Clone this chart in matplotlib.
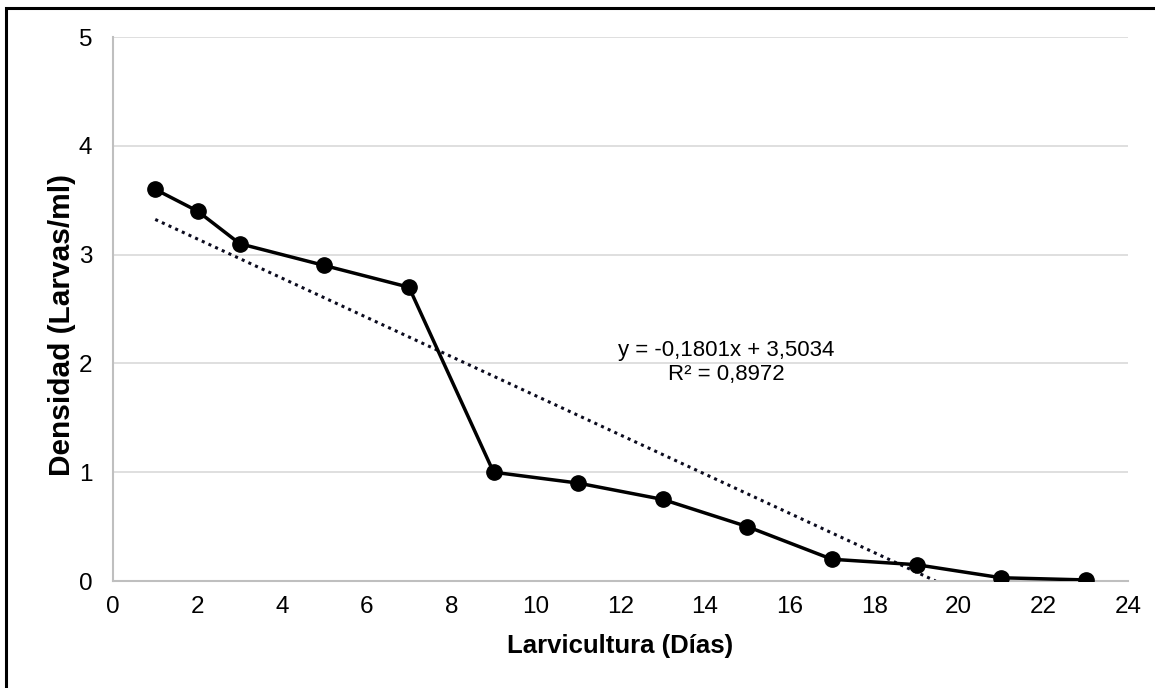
import matplotlib.pyplot as plt
from matplotlib.patches import Rectangle
import numpy as np

plt.rcParams['font.family'] = ['Liberation Sans', 'DejaVu Sans']

# data
dias = [1, 2, 3, 5, 7, 9, 11, 13, 15, 17, 19, 21, 23]
densidad = [3.6, 3.4, 3.1, 2.9, 2.7, 1.0, 0.9, 0.75, 0.5, 0.2, 0.15, 0.03, 0.01]
slope = -0.1801
intercept = 3.5034
eq_text = 'y = -0,1801x + 3,5034\nR² = 0,8972'

fig = plt.figure(figsize=(11.55, 6.88), dpi=100)
ax = fig.add_axes([0.0978, 0.1555, 0.8788, 0.7907])

# outer chart border (only left/top visible in the reference)
fig.patches.append(Rectangle((6/1155, -0.05), 1.2, 1 - 8/688 + 0.05,
                             transform=fig.transFigure, fill=False,
                             edgecolor='k', linewidth=2.2))

ax.plot(dias, densidad, '-o', color='k', linewidth=2.5, markersize=11, zorder=3)

# linear trendline, drawn until it reaches zero
x_end = -intercept / slope
xt = np.array([dias[0], x_end])
ax.plot(xt, slope * xt + intercept, linestyle=(0, (1, 1.4)), color='#0b0b1e',
        linewidth=2.2, zorder=2)

ax.text(14.5, 2.01, eq_text, ha='center', va='center', fontsize=16, linespacing=1.2)

ax.set_xlim(0, 24)
ax.set_ylim(0, 5)
ax.set_xticks(range(0, 25, 2))
ax.set_yticks(range(0, 6))
ax.grid(axis='y', color='#d9d9d9', linewidth=1.2)
ax.set_axisbelow(True)
for s in ['top', 'right']:
    ax.spines[s].set_visible(False)
for s in ['left', 'bottom']:
    ax.spines[s].set_color('#bfbfbf')
    ax.spines[s].set_linewidth(1.5)
ax.tick_params(length=0, labelsize=17.5)
ax.tick_params(axis='x', pad=10.5)
ax.tick_params(axis='y', pad=15)
ax.set_xlabel('Larvicultura (Días)', fontsize=18.5, fontweight='bold', labelpad=12)
ax.set_ylabel('Densidad (Larvas/ml)', fontsize=21.5, fontweight='bold')
ax.yaxis.set_label_coords(-0.0365, 0.47)

plt.savefig('out.png', dpi=100)
